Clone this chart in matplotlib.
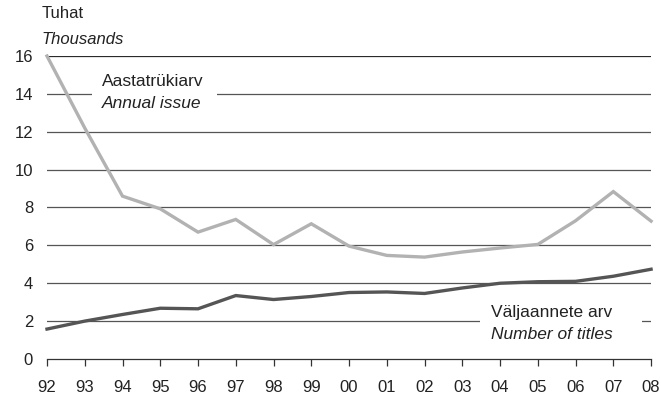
import matplotlib

matplotlib.use('Agg')
import matplotlib.pyplot as plt
from matplotlib.patches import Rectangle

years = ['92', '93', '94', '95', '96', '97', '98', '99', '00', '01', '02', '03', '04', '05', '06', '07', '08']
annual_issue = [16.0, 12.2, 8.6, 7.93, 6.7, 7.37, 6.04, 7.14, 5.96, 5.47, 5.38, 5.65, 5.86, 6.05, 7.3, 8.84, 7.28]
num_titles = [1.58, 2.0, 2.35, 2.68, 2.65, 3.35, 3.14, 3.3, 3.51, 3.54, 3.46, 3.75, 4.0, 4.08, 4.1, 4.37, 4.74]
yticks = [0, 2, 4, 6, 8, 10, 12, 14, 16]

plt.rcParams['font.family'] = ['Liberation Sans', 'DejaVu Sans']

fig = plt.figure(figsize=(6.61, 3.99), dpi=100)
ax = fig.add_axes([0.0711, 0.1003, 0.9139, 0.7593])

x = list(range(len(years)))
for t in yticks[1:]:
    ax.axhline(t, color='#2a2a2a' if t == 16 else '#555555', lw=0.9, zorder=1)

# white gaps in the grid behind the series labels
ax.add_patch(Rectangle((1.19, 13.0), 3.31, 2.3, facecolor='white', edgecolor='none', zorder=2))
ax.add_patch(Rectangle((11.47, 0.6), 4.29, 2.4, facecolor='white', edgecolor='none', zorder=2))

ax.plot(x, annual_issue, color='#b2b2b2', lw=2.4, zorder=3, clip_on=False, solid_joinstyle='miter')
ax.plot(x, num_titles, color='#555555', lw=2.4, zorder=3, clip_on=False, solid_joinstyle='miter')

ax.set_xlim(0, len(years) - 1)
ax.set_ylim(0, 16)
ax.set_yticks(yticks)
ax.set_xticks(x)
ax.set_xticklabels(years)
for s in ['top', 'right', 'left']:
    ax.spines[s].set_visible(False)
ax.spines['bottom'].set_color('#333333')
ax.spines['bottom'].set_linewidth(0.9)
ax.tick_params(axis='y', length=0, pad=10, labelsize=12, colors='#222222')
ax.tick_params(axis='x', direction='out', length=5, width=0.9, color='#333333', pad=10,
               labelsize=12, labelcolor='#222222')

fig.text(0.0635, 0.965, 'Tuhat', fontsize=12, color='#222222', va='center')
fig.text(0.0635, 0.9, 'Thousands', fontsize=12, style='italic', color='#222222', va='center')

ax.text(1.46, 14.64, 'Aastatrükiarv', fontsize=12.5, color='#222222', va='center', zorder=4)
ax.text(1.46, 13.51, 'Annual issue', fontsize=12.5, style='italic', color='#222222', va='center', zorder=4)
ax.text(11.76, 2.43, 'Väljaannete arv', fontsize=12.5, color='#222222', va='center', zorder=4)
ax.text(11.76, 1.27, 'Number of titles', fontsize=12.5, style='italic', color='#222222', va='center', zorder=4)

plt.savefig('out.png', dpi=100)
